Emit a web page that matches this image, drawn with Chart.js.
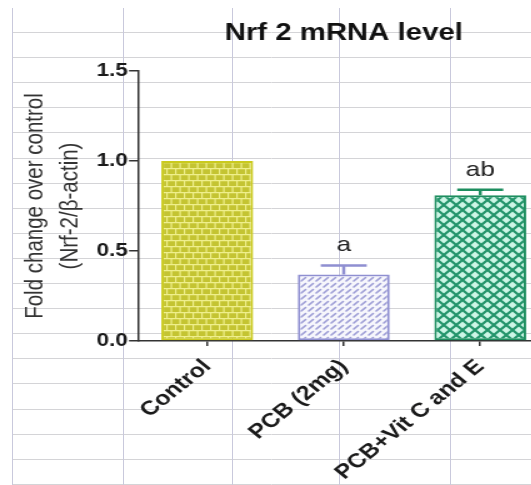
<!DOCTYPE html>
<html>
<head>
<meta charset="utf-8">
<script src="https://cdn.jsdelivr.net/npm/chart.js@4.4.1/dist/chart.umd.min.js"></script>
<style>
  html, body { margin: 0; padding: 0; background: #fff; overflow: hidden; width: 531px; height: 485px; }
  #sheet { position: absolute; left: 0; top: 0; }
  #wrap { position: absolute; left: 0; top: 0; width: 450px; height: 485px; transform: scaleX(1.25); transform-origin: 0 0; }
</style>
</head>
<body>
<canvas id="sheet" width="531" height="485"></canvas>
<div id="wrap"><canvas id="chart" width="450" height="485"></canvas></div>
<script>
// Groups and measured Nrf2 expression (fold over control, mean with SEM)
const categories = ['Control', 'PCB (2mg)', 'PCB+Vit C and E'];
const foldChange = [1.0, 0.37, 0.81];
const sem = [0, 0.05, 0.03];
const sigLetters = ['', 'a', 'ab'];
const yTickValues = [0, 0.5, 1.0, 1.5];

const FONT = '"Liberation Sans", Arial, Helvetica, sans-serif';

// Worksheet cell lines behind the figure
(function drawSheet() {
  const g = document.getElementById('sheet').getContext('2d');
  g.lineWidth = 1;
  g.strokeStyle = '#d4d4d7';
  for (let y = 32; y < 485; y += 25.1) {
    const yy = Math.round(y) + 0.5;
    g.beginPath(); g.moveTo(12, yy); g.lineTo(531, yy); g.stroke();
  }
  g.strokeStyle = '#c9c9dc';
  [12, 123, 232, 339, 450].forEach(x => {
    g.beginPath(); g.moveTo(x + 0.5, 8); g.lineTo(x + 0.5, 485); g.stroke();
  });
})();

// Fill patterns for the three bars
function makeTile(w, h, paint) {
  const c = document.createElement('canvas');
  c.width = w; c.height = h;
  paint(c.getContext('2d'), w, h);
  return document.getElementById('chart').getContext('2d').createPattern(c, 'repeat');
}
const brick = makeTile(14, 12, (t, w, h) => {
  t.fillStyle = '#c4c432'; t.fillRect(0, 0, w, h);
  t.strokeStyle = '#efef8c'; t.lineWidth = 1.2;
  t.beginPath();
  t.moveTo(0, 0.6); t.lineTo(w, 0.6);
  t.moveTo(0, 6.6); t.lineTo(w, 6.6);
  t.moveTo(0.6, 0); t.lineTo(0.6, 6);
  t.moveTo(7.6, 0); t.lineTo(7.6, 6);
  t.moveTo(4.1, 6); t.lineTo(4.1, 12);
  t.moveTo(11.1, 6); t.lineTo(11.1, 12);
  t.stroke();
});
const hatch = makeTile(6, 6, (t, w, h) => {
  t.fillStyle = '#f6f6fc'; t.fillRect(0, 0, w, h);
  t.strokeStyle = '#9d9dd6'; t.lineWidth = 1.6; t.lineCap = 'round';
  t.beginPath(); t.moveTo(1, 5); t.lineTo(4.5, 1.5); t.stroke();
});
const lattice = makeTile(10, 10, (t, w, h) => {
  t.fillStyle = '#cdf6e6'; t.fillRect(0, 0, w, h);
  t.strokeStyle = '#22946a'; t.lineWidth = 2.2;
  t.beginPath();
  t.moveTo(-1, -1); t.lineTo(w + 1, h + 1);
  t.moveTo(w + 1, -1); t.lineTo(-1, h + 1);
  t.stroke();
});
const fills = [brick, hatch, lattice];
const edges = ['#caca1e', '#8f8fd1', '#1d8e5f'];

// Upper SEM whiskers and significance letters above the bars
const errorBars = {
  id: 'errorBars',
  afterDatasetsDraw(chart) {
    const meta = chart.getDatasetMeta(0);
    const y = chart.scales.y;
    const c = chart.ctx;
    meta.data.forEach((bar, i) => {
      const top = y.getPixelForValue(foldChange[i] + sem[i]);
      c.save();
      if (sem[i] > 0) {
        c.strokeStyle = edges[i];
        c.lineWidth = 2.5;
        c.beginPath();
        c.moveTo(bar.x, bar.y); c.lineTo(bar.x, top);
        c.moveTo(bar.x - 18.4, top); c.lineTo(bar.x + 18.4, top);
        c.stroke();
      }
      if (sigLetters[i]) {
        c.fillStyle = '#222';
        c.font = '21px ' + FONT;
        c.textAlign = 'center';
        c.textBaseline = 'alphabetic';
        c.fillText(sigLetters[i], bar.x, top - 14);
      }
      c.restore();
    });
  }
};

new Chart(document.getElementById('chart'), {
  type: 'bar',
  data: {
    labels: categories,
    datasets: [{
      data: foldChange,
      backgroundColor: fills,
      borderColor: edges,
      borderWidth: 2,
      borderSkipped: false,
      barPercentage: 0.673,
      categoryPercentage: 1
    }]
  },
  options: {
    responsive: false,
    animation: false,
    devicePixelRatio: 1,
    layout: { padding: { left: 0, right: 11.2, top: 0, bottom: 0 } },
    plugins: {
      legend: { display: false },
      tooltip: { enabled: false },
      title: {
        display: true,
        text: 'Nrf 2 mRNA level',
        fullSize: false,
        color: '#111',
        font: { family: FONT, size: 23.5, weight: 'bold', lineHeight: 1.2 },
        padding: { top: 19.5, bottom: 23.3 }
      }
    },
    scales: {
      x: {
        grid: { display: true, offset: false, drawOnChartArea: false, drawTicks: true, tickLength: 5, color: '#333', lineWidth: 1.5 },
        border: { display: true, color: '#333', width: 1.5 },
        ticks: {
          autoSkip: false, minRotation: 45, maxRotation: 45, padding: 9,
          color: '#1a1a1a',
          font: { family: FONT, size: 20, weight: 'bold' }
        },
        afterFit(scale) { scale.height = 144; }
      },
      y: {
        min: 0,
        max: 1.5,
        afterBuildTicks(scale) { scale.ticks = yTickValues.map(v => ({ value: v })); },
        grid: { display: true, drawOnChartArea: false, drawTicks: true, tickLength: 8, color: '#333', lineWidth: 1.5 },
        border: { display: true, color: '#333', width: 1.5 },
        ticks: {
          padding: 1,
          color: '#1a1a1a',
          font: { family: FONT, size: 18, weight: 'bold' },
          callback: v => Number(v).toFixed(1)
        },
        title: {
          display: true,
          text: ['Fold change over control', '(Nrf-2/\u03b2-actin)'],
          color: '#333',
          font: { family: FONT, size: 20.5, lineHeight: 1.366 },
          padding: { top: 14.8, bottom: 0 }
        },
        afterFit(scale) { scale.width = 111.2; }
      }
    }
  },
  plugins: [errorBars]
});
</script>
</body>
</html>
